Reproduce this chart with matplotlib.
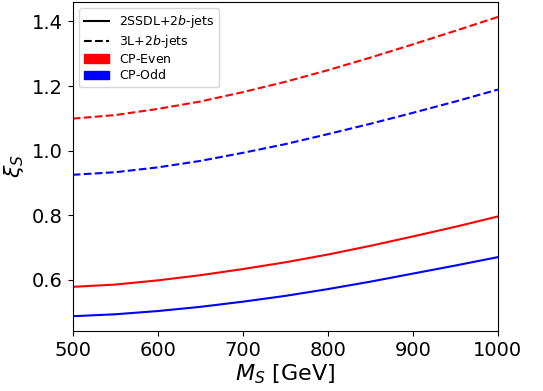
import matplotlib

matplotlib.use("Agg")
import matplotlib.pyplot as plt
from matplotlib.lines import Line2D
from matplotlib.patches import Patch

# masses [GeV]
mass = [500, 550, 600, 650, 700, 750, 800, 850, 900, 950, 1000]

# xi_S limits
ssdl_even = [0.578, 0.585, 0.598, 0.614, 0.633, 0.654, 0.678, 0.705, 0.734, 0.764, 0.796]
ssdl_odd = [0.487, 0.493, 0.503, 0.516, 0.532, 0.550, 0.571, 0.594, 0.619, 0.644, 0.670]
tril_even = [1.099, 1.110, 1.129, 1.152, 1.181, 1.213, 1.249, 1.288, 1.329, 1.371, 1.414]
tril_odd = [0.925, 0.933, 0.948, 0.968, 0.993, 1.020, 1.051, 1.083, 1.117, 1.152, 1.189]

fig = plt.figure(figsize=(5.43, 3.91), dpi=100)
ax = fig.add_axes([0.134, 0.153, 0.783, 0.842])

ax.plot(mass, ssdl_even, "-", color="red", linewidth=1.5)
ax.plot(mass, ssdl_odd, "-", color="blue", linewidth=1.5)
ax.plot(mass, tril_even, "--", color="red", linewidth=1.5)
ax.plot(mass, tril_odd, "--", color="blue", linewidth=1.5)

ax.set_xlim(500, 1000)
ax.set_xticks([500, 600, 700, 800, 900, 1000])
ax.set_yticks([0.6, 0.8, 1.0, 1.2, 1.4])
ax.tick_params(labelsize=14)
ax.set_xlabel(r"$M_S$ [GeV]", fontsize=16, labelpad=2)
ax.set_ylabel(r"$\xi_S$", fontsize=16)

handles = [
    Line2D([], [], color="black", linestyle="-"),
    Line2D([], [], color="black", linestyle="--"),
    Patch(color="red"),
    Patch(color="blue"),
]
# mathregular keeps every row the same height as the math rows
labels = [r"2SSDL+2$b$-jets", r"3L+2$b$-jets", r"CP-$\mathregular{Even}$", r"CP-$\mathregular{Odd}$"]
ax.legend(handles, labels, loc="upper left", fontsize=9, labelspacing=0.22)

fig.savefig("out.png", dpi=100)
